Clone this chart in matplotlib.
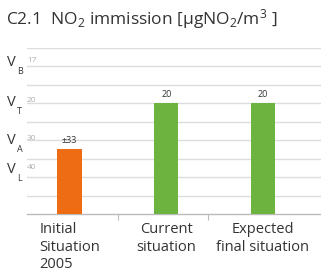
import matplotlib
matplotlib.use("Agg")
import matplotlib.pyplot as plt

plt.rcParams['font.family'] = ['Open Sans', 'DejaVu Sans']
plt.rcParams['mathtext.fontset'] = 'custom'
plt.rcParams['mathtext.rm'] = 'Open Sans'
plt.rcParams['mathtext.it'] = 'Open Sans'
plt.rcParams['mathtext.default'] = 'regular'

categories = ["Initial\nSituation\n2005", "Current\nsituation", "Expected\nfinal situation"]
bar_heights = [3.5, 6, 6]
bar_labels = ["\u00b133", "20", "20"]
bar_colors = ["#ee6c14", "#6db33f", "#6db33f"]

level_names = ["B", "T", "A", "L"]
level_values = ["17", "20", "30", "40"]
level_pos = [8.2, 6.05, 4.0, 2.4]

fig = plt.figure(figsize=(3.21, 2.76), dpi=100)
ax = fig.add_axes([27/321, 62/276, 1 - 27/321, (214-48)/276])

x = list(range(len(categories)))
ax.bar(x, bar_heights, width=0.25, color=bar_colors, zorder=3)
for xi, h, lab in zip(x, bar_heights, bar_labels):
    ax.text(xi, h + 0.22, lab, ha='center', va='bottom', fontsize=6.5, color='#333333')

ax.set_ylim(0, 9)
ax.set_xlim(-0.44, 2.6)
ax.set_yticks(range(1, 10))
ax.yaxis.grid(True, color='#dcdcdc', linewidth=1.0, zorder=0)
ax.tick_params(axis='y', length=0, labelleft=False)
for s in ['top', 'right', 'left']:
    ax.spines[s].set_visible(False)
ax.spines['bottom'].set_color('#bbbbbb')
ax.spines['bottom'].set_linewidth(1.0)

ax.set_xticks(x)
ax.set_xticklabels(categories, fontsize=10.5, color='#333333', linespacing=1.2)
for i, t in enumerate(ax.get_xticklabels()):
    t.set_multialignment('left' if i == 0 else 'center')
ax.set_xticks([0.5, 1.43], minor=True)
ax.tick_params(axis='x', which='major', length=0, pad=6)
ax.tick_params(axis='x', which='minor', length=4, color='#bbbbbb', width=0.8)

trans = ax.get_yaxis_transform()
for name, val, pos in zip(level_names, level_values, level_pos):
    ax.text(-0.068, pos, "V", transform=trans, ha='left', va='center',
            fontsize=10.5, color='#333333', clip_on=False)
    ax.annotate(name, xy=(-0.068, pos), xycoords=trans, xytext=(7, -6.5),
                textcoords='offset points', ha='left', va='center',
                fontsize=6.5, color='#333333', annotation_clip=False)
    ax.text(0.0, pos + 0.12, val, transform=trans, ha='left', va='center',
            fontsize=6, color='#b0b0b0', clip_on=False)

fig.text(6/321, 1 - 24/276, "C2.1  NO$_2$ immission [\u00b5gNO$_2$/m$^3$ ]",
         ha='left', va='baseline', fontsize=12.5, color='#333333')

fig.savefig("out.png", dpi=100)
